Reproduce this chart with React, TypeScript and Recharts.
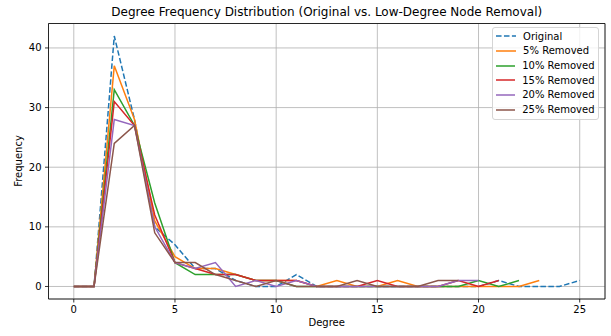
import React from 'react';
import { LineChart, Line, XAxis, YAxis, CartesianGrid, ReferenceLine, Legend } from 'recharts';

const DEGREES = [0, 1, 2, 3, 4, 5, 6, 7, 8, 9, 10, 11, 12, 13, 14, 15, 16, 17, 18, 19, 20, 21, 22, 23, 24, 25];
const ORIGINAL = [0, 0, 42, 28, 10, 7, 3, 3, 1, 0, 0, 2, 0, 0, 0, 0, 0, 0, 0, 0, 0, 1, 0, 0, 0, 1];
const REMOVED_5 = [0, 0, 37, 28, 11, 5, 3, 3, 2, 1, 1, 1, 0, 1, 0, 0, 1, 0, 0, 0, 0, 0, 0, 1];
const REMOVED_10 = [0, 0, 33, 27, 14, 4, 2, 2, 2, 1, 1, 0, 0, 0, 0, 0, 0, 0, 0, 0, 1, 0, 1];
const REMOVED_15 = [0, 0, 31, 27, 12, 4, 3, 2, 2, 1, 1, 1, 0, 0, 0, 1, 0, 0, 0, 1, 0, 1];
const REMOVED_20 = [0, 0, 28, 27, 10, 4, 3, 4, 0, 1, 0, 1, 0, 0, 0, 0, 0, 0, 0, 1, 1];
const REMOVED_25 = [0, 0, 24, 27, 9, 4, 4, 2, 1, 0, 1, 0, 0, 0, 1, 0, 0, 0, 1, 1];

const X_TICKS = [0, 5, 10, 15, 20, 25];
const Y_TICKS = [0, 10, 20, 30, 40];

const SERIES = [
  { key: 'original', name: 'Original', values: ORIGINAL, color: '#1f77b4', dash: '5.55 2.4' },
  { key: 'r5', name: '5% Removed', values: REMOVED_5, color: '#ff7f0e', dash: undefined },
  { key: 'r10', name: '10% Removed', values: REMOVED_10, color: '#2ca02c', dash: undefined },
  { key: 'r15', name: '15% Removed', values: REMOVED_15, color: '#d62728', dash: undefined },
  { key: 'r20', name: '20% Removed', values: REMOVED_20, color: '#9467bd', dash: undefined },
  { key: 'r25', name: '25% Removed', values: REMOVED_25, color: '#8c564b', dash: undefined },
];

const DATA = DEGREES.map((d, i) => {
  const row: Record<string, number | null> = { degree: d };
  SERIES.forEach((s) => {
    row[s.key] = i < s.values.length ? s.values[i] : null;
  });
  return row;
});

const FONT = '"DejaVu Sans", sans-serif';
const X_DOMAIN = [-1.25, 26.25];
const Y_DOMAIN = [-2.1, 44.1];

const LegendBox = () => (
  <div
    style={{
      width: 107,
      boxSizing: 'border-box',
      border: '1px solid #d5d5d5',
      borderRadius: 3,
      background: 'rgba(255,255,255,0.8)',
      padding: '1px 3px 2px 3px',
      fontFamily: FONT,
      fontSize: 10,
      color: '#000',
    }}
  >
    {SERIES.map((s) => (
      <div key={s.key} style={{ display: 'flex', alignItems: 'center', height: 14.66 }}>
        <svg width={20} height={4} style={{ display: 'block' }}>
          <line x1={0} y1={2} x2={20} y2={2} stroke={s.color} strokeWidth={1.5} strokeDasharray={s.dash} />
        </svg>
        <span style={{ marginLeft: 7.6, whiteSpace: 'nowrap' }}>{s.name}</span>
      </div>
    ))}
  </div>
);

export default function App() {
  return (
    <div style={{ position: 'absolute', left: 0, top: 0, width: 611, height: 336, background: '#fff' }}>
      <div
        style={{
          position: 'absolute',
          left: 48.5,
          width: 556.5,
          top: 4,
          textAlign: 'center',
          fontFamily: FONT,
          fontSize: 12,
          color: '#000',
          lineHeight: '16px',
        }}
      >
        Degree Frequency Distribution (Original vs. Low-Degree Node Removal)
      </div>
      <LineChart
        width={611}
        height={336}
        data={DATA}
        margin={{ top: 23.5, right: 6, bottom: 7, left: 8.5 }}
      >
        <CartesianGrid stroke="#b0b0b0" strokeWidth={0.8} />
        <XAxis
          dataKey="degree"
          type="number"
          domain={X_DOMAIN}
          ticks={X_TICKS}
          allowDataOverflow
          height={30}
          tickSize={3.5}
          tickMargin={3}
          stroke="#000"
          strokeWidth={0.8}
          tick={{ fill: '#000', fontSize: 10, fontFamily: FONT }}
          label={{
            content: () => (
              <text x={326.7} y={326} textAnchor="middle" fontSize={10} fontFamily={FONT} fill="#000">
                Degree
              </text>
            ),
          }}
        />
        <YAxis
          type="number"
          domain={Y_DOMAIN}
          ticks={Y_TICKS}
          allowDataOverflow
          width={40}
          tickSize={3.5}
          tickMargin={3.5}
          stroke="#000"
          strokeWidth={0.8}
          tick={{ fill: '#000', fontSize: 10, fontFamily: FONT }}
          label={{
            content: () => (
              <text
                x={22}
                y={161}
                transform="rotate(-90 22 161)"
                textAnchor="middle"
                fontSize={10}
                fontFamily={FONT}
                fill="#000"
              >
                Frequency
              </text>
            ),
          }}
        />
        <ReferenceLine x={26.25} stroke="#000" strokeWidth={0.8} />
        <ReferenceLine y={44.1} stroke="#000" strokeWidth={0.8} />
        {SERIES.map((s) => (
          <Line
            key={s.key}
            dataKey={s.key}
            name={s.name}
            type="linear"
            stroke={s.color}
            strokeWidth={1.5}
            strokeDasharray={s.dash}
            dot={false}
            activeDot={false}
            isAnimationActive={false}
            connectNulls={false}
          />
        ))}
        <Legend
          layout="horizontal"
          verticalAlign="middle"
          align="center"
          content={() => <LegendBox />}
          wrapperStyle={{ position: 'absolute', left: 491.5, top: 27, width: 107 }}
        />
      </LineChart>
    </div>
  );
}
